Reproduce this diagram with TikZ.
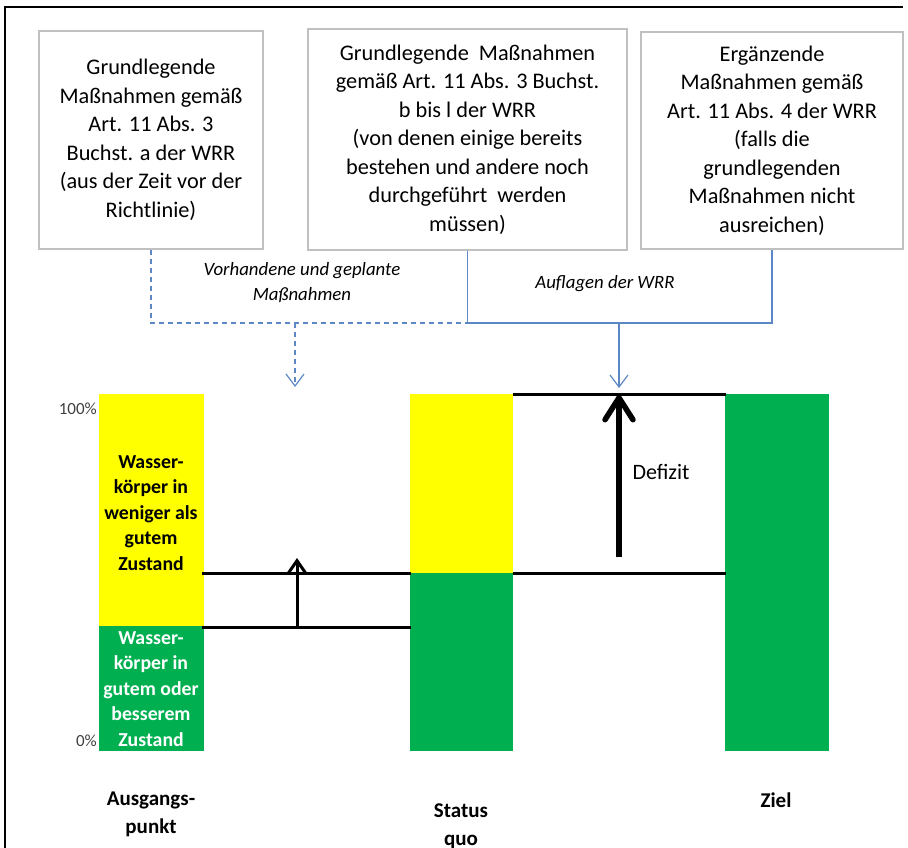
\documentclass[tikz,border=0pt]{standalone}
\usepackage{fontspec}
\setmainfont{Carlito}
\usetikzlibrary{arrows.meta}
\definecolor{wyellow}{HTML}{FFFF00}
\definecolor{wgreen}{HTML}{00B050}
\definecolor{cblue}{HTML}{5B87C5}
\definecolor{bgray}{HTML}{C0C0C0}
\definecolor{pgray}{HTML}{404040}
\begin{document}
\begin{tikzpicture}[x=1pt,y=-1pt,
  mbox/.style={draw=bgray,line width=1.3pt,fill=white,align=center,inner sep=0pt,
    font=\fontsize{22.3pt}{28.5pt}\selectfont},
  conn/.style={draw=cblue,line width=1.2pt},
  dconn/.style={conn,dash pattern=on 5pt off 4pt},
  barb/.style={-{Straight Barb[length=12pt,width=18pt]}},
  bartext/.style={align=center,font=\bfseries\fontsize{19.8pt}{25.5pt}\selectfont},
  lbl/.style={align=center,font=\bfseries\fontsize{21pt}{28pt}\selectfont},
  itl/.style={align=center,font=\itshape\fontsize{18.8pt}{25pt}\selectfont},
  pct/.style={anchor=east,text=pgray,font=\fontsize{17pt}{19pt}\selectfont,inner sep=0pt},
  level/.style={line width=3pt},
  smallarrow/.style={line width=3pt,-{Straight Barb[length=13pt,width=18pt]}},
  bigarrow/.style={line width=5.5pt,-{Straight Barb[length=22pt,width=28pt,round]}}
]
\useasboundingbox (0,0) rectangle (908,848);
% frame
\draw[line width=2.5pt] (903,7) -- (5,7) -- (5,852);

% boxes
\node[mbox,minimum width=224pt,minimum height=218pt] (b1) at (151,140)
  {Grundlegende\\Maßnahmen gemäß\\Art. 11 Abs. 3\\Buchst. a der WRR\\(aus der Zeit vor der\\Richtlinie)};
\node[mbox,minimum width=319pt,minimum height=221pt] (b2) at (467.5,139.5)
  {Grundlegende\ \ Maßnahmen\\gemäß Art. 11 Abs. 3 Buchst.\\b bis l der WRR\\(von denen einige bereits\\bestehen und andere noch\\durchgeführt\ \ werden\\müssen)};
\node[mbox,minimum width=262pt,minimum height=217pt] (b3) at (772,140.5)
  {Ergänzende\\Maßnahmen gemäß\\Art. 11 Abs. 4 der WRR\\(falls die\\grundlegenden\\Maßnahmen nicht\\ausreichen)};

% connectors
\coordinate (lvl) at (0,323);
\coordinate (j2) at (b2.south |- lvl);
\draw[dconn] (b1.south) |- (j2);
\draw[conn] (b2.south) -- (j2) -| (b3.south);
\coordinate (d1) at (295,323);
\coordinate (d2) at (295,387);
\draw[dconn,barb] (d1) -- (d2);
\coordinate (s1) at (619,323);
\coordinate (s2) at (619,388);
\draw[conn,barb] (s1) -- (s2);

\node[itl] (lv) at (302,283) {Vorhandene und geplante\\Maßnahmen};
\node[itl] (la) at (605,284) {Auflagen der WRR};

% bars
\fill[wyellow] (99,394) rectangle (204,626);
\fill[wgreen] (99,626) rectangle (204,751);
\fill[wyellow] (410,394) rectangle (513,573);
\fill[wgreen] (410,573) rectangle (513,751);
\fill[wgreen] (725,394) rectangle (829,751);

\node[pct] (p100) at (97,409) {100\%};
\node[pct] (p0) at (97,741) {0\%};

\node[bartext] (ty) at (151,513) {Wasser-\\körper in\\weniger als\\gutem\\Zustand};
\node[bartext,text=white] (tg) at (151,689) {Wasser-\\körper in\\gutem oder\\besserem\\Zustand};

% levels
\draw[level] (202,573) -- (411,573);
\draw[level] (202,627) -- (411,627);
\draw[level] (513,394) -- (726,394);
\draw[level] (513,573) -- (726,573);

\coordinate (sa1) at (297,627);
\coordinate (sa2) at (297,558);
\draw[smallarrow] (sa1) -- (sa2);
\coordinate (ba1) at (619,557);
\coordinate (ba2) at (619,395);
\draw[bigarrow] (ba1) -- (ba2);
\node[anchor=west,font=\fontsize{22pt}{26pt}\selectfont] (def) at (629,472) {Defizit};

% bottom labels
\node[lbl] (la1) at (151,814) {Ausgangs-\\punkt};
\node[lbl] (la2) at (461,826) {Status\\quo};
\node[lbl] (la3) at (776,800) {Ziel};
\end{tikzpicture}
\end{document}
